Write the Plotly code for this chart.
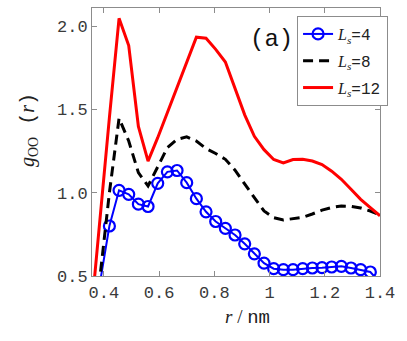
import plotly.graph_objects as go

r = [0.35, 0.385, 0.42, 0.455, 0.49, 0.525, 0.56, 0.595, 0.63, 0.665, 0.70,
     0.735, 0.77, 0.805, 0.84, 0.875, 0.91, 0.945, 0.98, 1.015, 1.05, 1.085,
     1.12, 1.155, 1.19, 1.225, 1.26, 1.295, 1.33, 1.365, 1.40]

g_ls4 = [0.10, 0.44, 0.80, 1.014, 0.99, 0.931, 0.917, 1.056, 1.125, 1.133, 1.06,
         0.964, 0.885, 0.827, 0.786, 0.746, 0.693, 0.633, 0.577, 0.544, 0.538, 0.538,
         0.544, 0.548, 0.55, 0.554, 0.558, 0.548, 0.538, 0.524, 0.46]

g_ls8 = [0.05, 0.48, 1.00, 1.446, 1.31, 1.12, 1.04, 1.16, 1.27, 1.32, 1.335,
         1.31, 1.265, 1.235, 1.20, 1.135, 1.05, 0.97, 0.89, 0.85, 0.836, 0.842,
         0.852, 0.872, 0.895, 0.911, 0.92, 0.918, 0.908, 0.89, 0.866]

g_ls12 = [0.20, 0.85, 1.45, 2.046, 1.883, 1.397, 1.189, 1.33, 1.48, 1.63, 1.78,
          1.933, 1.927, 1.86, 1.784, 1.625, 1.467, 1.338, 1.258, 1.199, 1.179, 1.199,
          1.20, 1.19, 1.169, 1.129, 1.08, 1.02, 0.96, 0.91, 0.861]

x_ticks = [0.4, 0.6, 0.8, 1.0, 1.2, 1.4]
x_ticktext = ["0.4", "0.6", "0.8", "1", "1.2", "1.4"]
y_ticks = [0.5, 1.0, 1.5, 2.0]
y_ticktext = ["0.5", "1.0", "1.5", "2.0"]

serif = "Liberation Serif"
mono = "Liberation Mono"

def lab(n):
    return f"<span style='font-family:{serif}'><i>L</i><sub><i>s</i></sub></span>={n}"

fig = go.Figure()
fig.add_trace(go.Scatter(x=r, y=g_ls4, mode="lines+markers", name=lab(4), legendgroup="a",
                         line=dict(color="#0000ff", width=2),
                         marker=dict(symbol="circle-open", size=11, color="#0000ff",
                                     line=dict(width=2.2, color="#0000ff"))))
fig.add_trace(go.Scatter(x=r, y=g_ls8, mode="lines", name=lab(8), legendgroup="b",
                         line=dict(color="#000000", width=3, dash="10px,6px")))
fig.add_trace(go.Scatter(x=r, y=g_ls12, mode="lines", name=lab(12), legendgroup="c",
                         line=dict(color="#ff0000", width=3)))

axis_common = dict(showline=True, linecolor="#8c8c8c", linewidth=1, mirror="ticks",
                   ticks="inside", ticklen=5, tickcolor="#8c8c8c", showgrid=False,
                   zeroline=False,
                   tickfont=dict(family=mono, size=17, color="#3a3a3a"))

fig.update_xaxes(range=[0.357, 1.4], tickvals=x_ticks, ticktext=x_ticktext,
                 ticklabelstandoff=1, **axis_common)
fig.update_yaxes(range=[0.5, 2.108], tickvals=y_ticks, ticktext=y_ticktext,
                 ticklabelstandoff=0, **axis_common)

fig.update_layout(
    width=407, height=341,
    margin=dict(l=92, r=27, t=8, b=65),
    plot_bgcolor="white", paper_bgcolor="white",
    showlegend=True,
    legend=dict(x=0.712, y=0.97, xanchor="left", yanchor="top",
                bgcolor="white", bordercolor="#8c8c8c", borderwidth=1,
                font=dict(family=mono, size=16, color="#222222"),
                itemwidth=30, tracegroupgap=3, traceorder="grouped"),
    annotations=[
        dict(text="(a)", x=(271 - 92) / 288, y=1 - (39 - 8) / 268,
             xref="paper", yref="paper", showarrow=False,
             xanchor="center", yanchor="middle",
             font=dict(family=mono, size=24, color="#111111")),
        dict(text=f"<span style='font-family:{serif}'><i>r</i> / </span>nm",
             xref="paper", yref="paper", x=(247 - 92) / 288, y=-(317 - 276) / 268,
             showarrow=False, xanchor="center", yanchor="middle",
             font=dict(family=mono, size=19, color="#222222")),
        dict(text=f"<span style='font-family:{serif}'><i>g</i><sub>OO</sub></span> (<span style='font-family:{serif}'><i>r</i></span>)",
             xref="paper", yref="paper", x=-(92 - 28) / 288, y=1 - (130 - 8) / 268,
             showarrow=False, textangle=-90, xanchor="center", yanchor="middle",
             font=dict(family=mono, size=20, color="#222222")),
    ],
)

fig.write_html("out.html", config={"displayModeBar": False},
               post_script="document.body.style.margin='0';document.body.style.padding='0';")
